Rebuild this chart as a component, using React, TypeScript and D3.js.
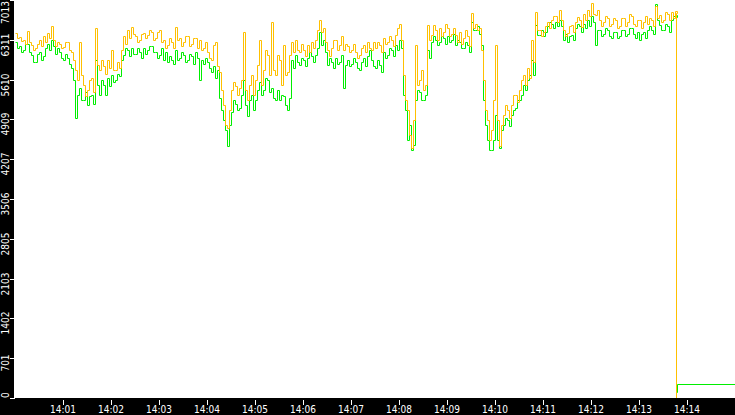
import { useEffect, useRef } from "react";
import * as d3 from "d3";

// sampled every 5 s from 14:00:00; the *_SWING value is the opposite swing half a step later
const SAMPLE_SECONDS = 5;

const ORANGE = [
  6431, 6361, 6308, 6467, 6220, 6167, 6308, 6378, 6431, 6555,
  6202, 6237, 6185, 6273, 6097, 5779, 6273, 5515, 5427, 5638,
  6519, 5779, 5850, 5956, 6132, 5779, 5815, 6378, 6484, 6537,
  6378, 6308, 6431, 6396, 6449, 6343, 6484, 6308, 6220, 6273,
  6537, 6343, 6273, 6378, 6237, 6343, 6308, 6167, 6097, 5956,
  6273, 5744, 5163, 4757, 5427, 5497, 5462, 6449, 5251, 5691,
  5603, 6308, 5779, 6044, 6625, 5691, 5956, 6220, 5744, 6273,
  6308, 6097, 6132, 6220, 6273, 6308, 6660, 6519, 6132, 6167,
  6308, 6220, 6132, 6202, 6132, 6097, 6044, 6220, 6273, 6132,
  6167, 6220, 6343, 6273, 6308, 6396, 6590, 5691, 5075, 4405,
  6220, 5603, 5427, 6572, 6396, 6484, 6519, 6449, 6519, 6414,
  6396, 6449, 6343, 6378, 6784, 6590, 6519, 5603, 4898, 4722,
  6220, 4440, 4986, 5075, 5163, 5339, 5427, 5691, 5815, 6308,
  6801, 6484, 6449, 6625, 6660, 6731, 6837, 6484, 6431, 6572,
  6625, 6660, 6766, 6837, 6960, 6749, 6660, 6625, 6696, 6590,
  6660, 6555, 6696, 6625, 6731, 6555, 6660, 6625, 6590, 6660,
  6907, 6749, 6660, 6766, 6801, 6819,
];

const ORANGE_SWING = [
  6343, 6290, 6237, 6273, 6132, 6237, 6202, 6273, 6343, 6308,
  6273, 6167, 6273, 6132, 5956, 5603, 5691, 5321, 5603, 5392,
  5867, 5956, 5709, 5815, 5779, 5920, 6132, 6237, 6343, 6414,
  6273, 6414, 6343, 6484, 6308, 6449, 6273, 6167, 6343, 6167,
  6308, 6202, 6378, 6202, 6343, 6167, 6132, 6273, 5991, 6220,
  5850, 5427, 4810, 5075, 5568, 5339, 5603, 5427, 5515, 5339,
  5867, 5515, 6132, 5691, 5779, 6044, 5515, 5691, 6044, 6097,
  6132, 6237, 6026, 6097, 6167, 6484, 6449, 6273, 6026, 6308,
  6132, 6378, 6237, 6097, 6237, 5991, 6167, 6097, 6167, 6273,
  6273, 6097, 6237, 6378, 6202, 6519, 6308, 5251, 4634, 4898,
  5515, 5779, 5515, 6308, 6572, 6308, 6378, 6590, 6378, 6519,
  6273, 6237, 6484, 6202, 6519, 6484, 6132, 5075, 4546, 5251,
  4898, 4810, 5163, 4934, 5339, 5216, 5603, 5515, 5638, 5920,
  6484, 6378, 6555, 6519, 6731, 6625, 6660, 6378, 6555, 6449,
  6713, 6537, 6660, 6731, 6766, 6837, 6555, 6731, 6555, 6696,
  6519, 6696, 6555, 6766, 6590, 6660, 6519, 6731, 6696, 6555,
  6696, 6625, 6801, 6660, 6696, 6784,
];

const GREEN = [
  6273, 6202, 6132, 6237, 6044, 5920, 6097, 6026, 6237, 6308,
  6061, 6097, 5956, 5991, 5815, 4934, 5462, 5251, 5163, 5339,
  5956, 5339, 5515, 5638, 5691, 5603, 5674, 6044, 6132, 6167,
  6061, 6097, 6167, 6132, 6202, 6097, 6044, 5956, 5920, 5956,
  6132, 5991, 6044, 5956, 6026, 6097, 5603, 5885, 5920, 5744,
  5638, 5286, 4898, 4440, 5039, 5180, 5110, 5603, 4969, 5339,
  5251, 5568, 5427, 5603, 5462, 5251, 5251, 5321, 5075, 5956,
  6044, 5867, 5956, 5991, 6026, 6044, 6449, 6308, 5867, 5920,
  5991, 5920, 5462, 5956, 5885, 5920, 5779, 5991, 6026, 5956,
  5815, 5867, 6097, 6044, 6132, 6220, 6308, 5339, 4546, 4370,
  5251, 5392, 5251, 6132, 6273, 6308, 6273, 6343, 6378, 6308,
  6220, 6273, 6167, 6220, 6625, 6484, 6414, 5251, 4546, 4370,
  4986, 4405, 4810, 4898, 4986, 5110, 5251, 5515, 5603, 5956,
  6572, 6396, 6378, 6555, 6590, 6625, 6660, 6308, 6273, 6396,
  6519, 6555, 6590, 6660, 6731, 6220, 6484, 6414, 6484, 6343,
  6449, 6378, 6484, 6414, 6519, 6343, 6308, 6449, 6484, 6484,
  6942, 6572, 6484, 6555, 6660, 6749,
];

const GREEN_SWING = [
  6167, 6097, 6237, 6097, 5920, 6061, 5956, 6167, 6132, 6202,
  6167, 5991, 6061, 5885, 5603, 5339, 5251, 5392, 5321, 5180,
  5515, 5603, 5339, 5497, 5568, 5709, 5956, 6167, 6026, 6061,
  6167, 5991, 6061, 6202, 6097, 5991, 6167, 6097, 6026, 5885,
  5956, 6097, 5920, 6061, 5885, 5991, 5956, 5991, 5815, 5850,
  5779, 5075, 4722, 4810, 5251, 5075, 5339, 5163, 5251, 5075,
  5427, 5339, 5638, 5392, 5286, 5427, 5339, 5163, 5286, 5815,
  5920, 5991, 5850, 6097, 5920, 6167, 6220, 6097, 5991, 5815,
  5885, 6044, 5867, 5850, 5991, 5815, 5920, 5850, 6132, 5850,
  5956, 5744, 5991, 6167, 6026, 6132, 6167, 5075, 4810, 4458,
  5427, 5251, 5339, 5991, 6378, 6220, 6378, 6237, 6273, 6414,
  6308, 6167, 6273, 6097, 6484, 6555, 6220, 4810, 4370, 4546,
  4546, 4722, 4934, 4793, 5075, 5251, 5339, 5427, 5691, 5691,
  6396, 6484, 6449, 6625, 6519, 6555, 6555, 6414, 6378, 6308,
  6590, 6449, 6519, 6555, 6625, 6484, 6378, 6519, 6378, 6449,
  6343, 6484, 6378, 6519, 6414, 6449, 6414, 6343, 6555, 6414,
  6660, 6484, 6590, 6449, 6731, 6713,
];

// the feed drop at the end: [seconds after 14:00, value]
const ORANGE_TAIL: [number, number][] = [[826, 3506], [826.5, 0], [900, 0]];
const GREEN_TAIL: [number, number][] = [[826, 3506], [826.5, 106], [827.5, 247], [900, 247]];

const Y_TICKS = [0, 701, 1402, 2103, 2805, 3506, 4207, 4909, 5610, 6311, 7013];
const X_TICK_MINUTES = [1, 2, 3, 4, 5, 6, 7, 8, 9, 10, 11, 12, 13, 14];

const W = 735;
const H = 415;
const FONT = "'DejaVu Sans', sans-serif";

export default function App() {
  const svgRef = useRef<SVGSVGElement>(null);

  useEffect(() => {
    if (!svgRef.current) return;
    const svg = d3.select(svgRef.current);
    svg.selectAll("*").remove();

    const left = 15;
    const bottom = 398;
    const t0 = new Date(2024, 0, 1, 14, 0, 0);
    const at = (s: number) => new Date(t0.getTime() + s * 1000);

    const x = d3.scaleTime().domain([t0, at(900)]).range([left, W]);
    const y = d3.scaleLinear().domain([0, 7013]).range([bottom, 0]);

    svg.append("rect").attr("width", W).attr("height", H).attr("fill", "#fff");

    svg.append("clipPath").attr("id", "plot")
      .append("rect").attr("x", left).attr("y", 0).attr("width", W - left).attr("height", bottom);

    const toPts = (vals: number[], swing: number[], tail: [number, number][]) => {
      const pts: [Date, number][] = [];
      vals.forEach((v, i) => {
        pts.push([at(i * SAMPLE_SECONDS), v]);
        pts.push([at(i * SAMPLE_SECONDS + SAMPLE_SECONDS / 2), swing[i]]);
      });
      tail.forEach(([s, v]) => pts.push([at(s), v]));
      return pts;
    };

    const line = d3.line<[Date, number]>()
      .x((d) => Math.round(x(d[0])) + 0.5)
      .y((d) => Math.round(y(d[1])) + 0.5)
      .curve(d3.curveStepAfter);

    const g = svg.append("g").attr("clip-path", "url(#plot)");
    g.append("path").datum(toPts(GREEN, GREEN_SWING, GREEN_TAIL)).attr("d", line)
      .attr("fill", "none").attr("stroke", "#00ee00").attr("stroke-width", 1);
    g.append("path").datum(toPts(ORANGE, ORANGE_SWING, ORANGE_TAIL)).attr("d", line)
      .attr("fill", "none").attr("stroke", "#ffc000").attr("stroke-width", 1);

    // black axis bands
    svg.append("rect").attr("x", 0).attr("y", 0).attr("width", left - 1).attr("height", H).attr("fill", "#000");
    svg.append("rect").attr("x", 0).attr("y", bottom).attr("width", W).attr("height", H - bottom).attr("fill", "#000");

    // y axis
    Y_TICKS.forEach((v, i) => {
      const ty = Math.round(y(v));
      svg.append("line").attr("x1", 10).attr("x2", left).attr("y1", ty + 0.5).attr("y2", ty + 0.5)
        .attr("stroke", "#fff").attr("shape-rendering", "crispEdges");
      let anchor = "middle";
      let py = ty + 5;
      if (i === Y_TICKS.length - 1) { anchor = "end"; py = 1; }
      if (i === 0) { anchor = "start"; py = bottom; }
      svg.append("text")
        .attr("transform", `translate(9,${py}) rotate(-90)`)
        .attr("text-anchor", anchor)
        .style("font-family", FONT).style("font-size", "10px").style("font-stretch", "condensed")
        .attr("fill", "#fff")
        .text(String(v));
    });

    // x axis
    const fmt = d3.timeFormat("%H:%M");
    X_TICK_MINUTES.forEach((m) => {
      const d = at(m * 60);
      const tx = Math.round(x(d));
      svg.append("line").attr("x1", tx + 0.5).attr("x2", tx + 0.5).attr("y1", bottom + 2).attr("y2", bottom + 7)
        .attr("stroke", "#fff").attr("shape-rendering", "crispEdges");
      svg.append("text").attr("x", tx).attr("y", 413).attr("text-anchor", "middle")
        .style("font-family", FONT).style("font-size", "10px").style("font-stretch", "condensed")
        .attr("fill", "#fff")
        .text(fmt(d));
    });

    return () => {
      svg.selectAll("*").remove();
    };
  }, []);

  return (
    <div style={{ position: "fixed", left: 0, top: 0 }}>
      <svg ref={svgRef} width={W} height={H} style={{ display: "block" }} />
    </div>
  );
}
